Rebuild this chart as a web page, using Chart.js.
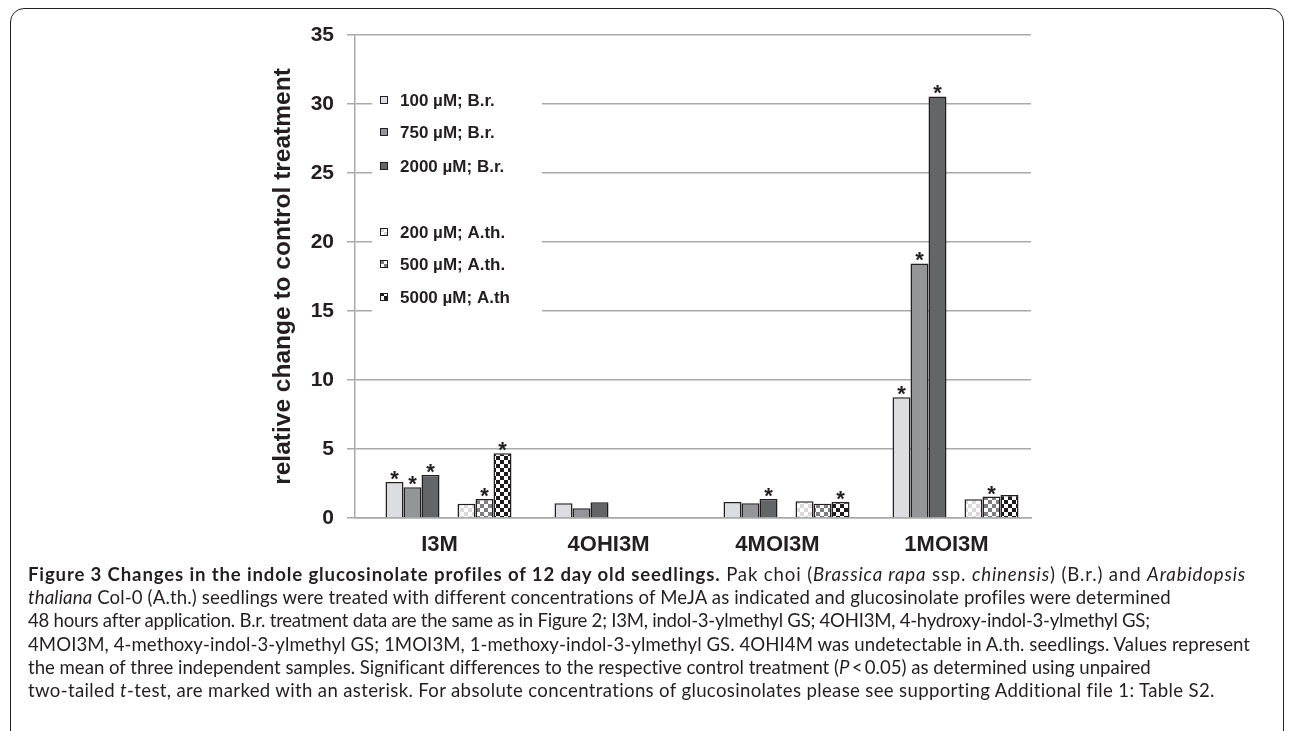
<!DOCTYPE html>
<html>
<head>
<meta charset="utf-8">
<script src="https://cdn.jsdelivr.net/npm/chart.js@4.4.1/dist/chart.umd.min.js"></script>
<style>
    body { margin: 0; background: #ffffff; width: 1293px; height: 731px; overflow: hidden; position: relative; }
    .frame { position: absolute; left: 10px; top: 8px; width: 1274px; height: 800px; border: 1.5px solid #231f20; border-radius: 14px; box-sizing: border-box; }
    .chart-box { position: absolute; left: 0; top: 0; width: 1293px; height: 565px; }
    .caption { position: absolute; left: 28px; top: 563px; font-family: Lato, "Open Sans", sans-serif; font-size: 18.6px; line-height: 23.2px; color: #231f20; white-space: nowrap; }
    .caption .ln { display: inline-block; }
    .caption b { font-weight: 700; }
</style>
</head>
<body>
<div class="frame"></div>
<div class="chart-box"><canvas id="gsChart" width="1293" height="565"></canvas></div>
<div class="caption">
<span class="ln"><b>Figure 3 Changes in the indole glucosinolate profiles of 12 day old seedlings.</b> Pak choi (<i>Brassica rapa</i> ssp. <i>chinensis</i>) (B.r.) and <i>Arabidopsis</i></span><br>
<span class="ln"><i>thaliana</i> Col-0 (A.th.) seedlings were treated with different concentrations of MeJA as indicated and glucosinolate profiles were determined</span><br>
<span class="ln">48 hours after application. B.r. treatment data are the same as in Figure 2; I3M, indol-3-ylmethyl GS; 4OHI3M, 4-hydroxy-indol-3-ylmethyl GS;</span><br>
<span class="ln">4MOI3M, 4-methoxy-indol-3-ylmethyl GS; 1MOI3M, 1-methoxy-indol-3-ylmethyl GS. 4OHI4M was undetectable in A.th. seedlings. Values represent</span><br>
<span class="ln">the mean of three independent samples. Significant differences to the respective control treatment (<i>P</i>&thinsp;&lt;&thinsp;0.05) as determined using unpaired</span><br>
<span class="ln">two-tailed <i>t</i>-test, are marked with an asterisk. For absolute concentrations of glucosinolates please see supporting Additional file 1: Table S2.</span>
</div>
<script>
// data
const categories = ['I3M', '4OHI3M', '4MOI3M', '1MOI3M'];
const seriesNames = ['100 µM; B.r.', '750 µM; B.r.', '2000 µM; B.r.', '200 µM; A.th.', '500 µM; A.th.', '5000 µM; A.th'];
const br100 = [2.6, 1.06, 1.16, 8.75];
const br750 = [2.22, 0.7, 1.06, 18.45];
const br2000 = [3.12, 1.14, 1.38, 30.55];
const at200 = [1.04, null, 1.21, 1.35];
const at500 = [1.38, null, 1.04, 1.55];
const at5000 = [4.69, null, 1.16, 1.67];
// asterisks (significant vs control)
const sig100 = [true, false, false, true];
const sig750 = [true, false, false, true];
const sig2000 = [true, false, true, true];
const sig200 = [false, false, false, false];
const sig500 = [true, false, false, true];
const sig5000 = [true, false, true, false];
const yTicks = [0, 5, 10, 15, 20, 25, 30, 35];

const textColor = '#231f20';
const gridColor = '#a7a9ab';
const barBorder = '#231f20';

// caption lines are stretched to the widths of the printed lines
const captionWidths = [1217, 1142, 1122, 1222, 1122, 1187];
function fitCaption() {
    document.querySelectorAll('.caption .ln').forEach((el, i) => {
        el.style.letterSpacing = '0px';
        const w = el.getBoundingClientRect().width;
        const n = el.textContent.length - 1;
        el.style.letterSpacing = ((captionWidths[i] - w) / n).toFixed(3) + 'px';
    });
}
document.fonts.ready.then(fitCaption);

function checker(size, dark) {
    const c = document.createElement('canvas');
    c.width = size * 2;
    c.height = size * 2;
    const g = c.getContext('2d');
    g.fillStyle = '#ffffff';
    g.fillRect(0, 0, size * 2, size * 2);
    g.fillStyle = dark;
    g.fillRect(0, 0, size, size);
    g.fillRect(size, size, size, size);
    return g.createPattern(c, 'repeat');
}

const ctx = document.getElementById('gsChart');
const fills = ['#dcdde0', '#939598', '#646567', checker(4, '#dadada'), checker(4, '#7d7e80'), checker(4, '#1d1b1c')];
const values = [br100, br750, br2000, at200, at500, at5000];
const sigs = [sig100, sig750, sig2000, sig200, sig500, sig5000];

// empty slots in front of each group of three, as in the original
const blank = categories.map(() => null);
const datasets = [];
datasets.push({ label: '', data: blank, sig: null });
for (let i = 0; i < 6; i++) {
    if (i === 3) datasets.push({ label: '', data: blank, sig: null });
    datasets.push({
        label: seriesNames[i],
        data: values[i],
        backgroundColor: fills[i],
        borderColor: barBorder,
        borderWidth: 1.5,
        sig: sigs[i]
    });
}

// legend inside the plot, white box over the grid
const insideLegend = {
    id: 'insideLegend',
    beforeDatasetsDraw(chart) {
        const c = chart.ctx;
        const area = chart.chartArea;
        c.save();
        c.fillStyle = '#ffffff';
        c.fillRect(area.left + 17, area.top + 30, 170, 290);
        const rows = [65, 97, 131, 197, 229, 262];
        c.font = 'bold 17px "Liberation Sans", Arial, sans-serif';
        c.textBaseline = 'middle';
        for (let i = 0; i < 6; i++) {
            const y = area.top + rows[i];
            c.fillStyle = fills[i];
            c.fillRect(area.left + 25, y - 4, 8, 8);
            c.strokeStyle = barBorder;
            c.lineWidth = 1;
            c.strokeRect(area.left + 25.5, y - 3.5, 7, 7);
            c.fillStyle = textColor;
            c.fillText(seriesNames[i], area.left + 45, y + 1);
        }
        c.restore();
    }
};

// asterisks above significant bars
const asterisks = {
    id: 'asterisks',
    afterDatasetsDraw(chart) {
        const c = chart.ctx;
        c.save();
        c.font = 'bold 22px "Liberation Sans", Arial, sans-serif';
        c.fillStyle = textColor;
        c.textAlign = 'center';
        c.textBaseline = 'alphabetic';
        chart.data.datasets.forEach((ds, i) => {
            if (!ds.sig) return;
            const meta = chart.getDatasetMeta(i);
            meta.data.forEach((bar, j) => {
                if (ds.sig[j] && ds.data[j] !== null) {
                    c.fillText('*', bar.x, bar.y + 4);
                }
            });
        });
        c.restore();
    }
};

const gsChart = new Chart(ctx, {
    type: 'bar',
    data: {
        labels: categories,
        datasets: datasets
    },
    options: {
        responsive: false,
        animation: false,
        events: [],
        datasets: {
            bar: {
                categoryPercentage: 0.852,
                barPercentage: 1
            }
        },
        layout: {
            padding: { left: 266, right: 262, top: 35, bottom: 0 }
        },
        plugins: {
            legend: { display: false },
            tooltip: { enabled: false }
        },
        scales: {
            x: {
                grid: { display: false, drawTicks: false },
                border: { display: true, color: gridColor, width: 1.5 },
                ticks: {
                    color: textColor,
                    padding: 14,
                    font: { family: '"Liberation Sans", Arial, sans-serif', size: 22, weight: 'bold' }
                },
                afterFit(scale) { scale.height = 47; }
            },
            y: {
                min: 0,
                max: 35,
                afterBuildTicks(scale) {
                    scale.ticks = yTicks.map(v => ({ value: v }));
                },
                grid: { color: gridColor, lineWidth: 1.5, tickLength: 8 },
                border: { display: true, color: gridColor, width: 1.5 },
                ticks: {
                    color: textColor,
                    padding: 13,
                    font: { family: '"Liberation Sans", Arial, sans-serif', size: 21, weight: 'bold' }
                },
                title: {
                    display: true,
                    text: 'relative change to control treatment',
                    color: textColor,
                    padding: { top: 3, bottom: 0 },
                    font: { family: '"Liberation Sans", Arial, sans-serif', size: 24.5, weight: 'bold' }
                },
                afterFit(scale) { scale.width = 89; }
            }
        }
    },
    plugins: [insideLegend, asterisks]
});
</script>
</body>
</html>
